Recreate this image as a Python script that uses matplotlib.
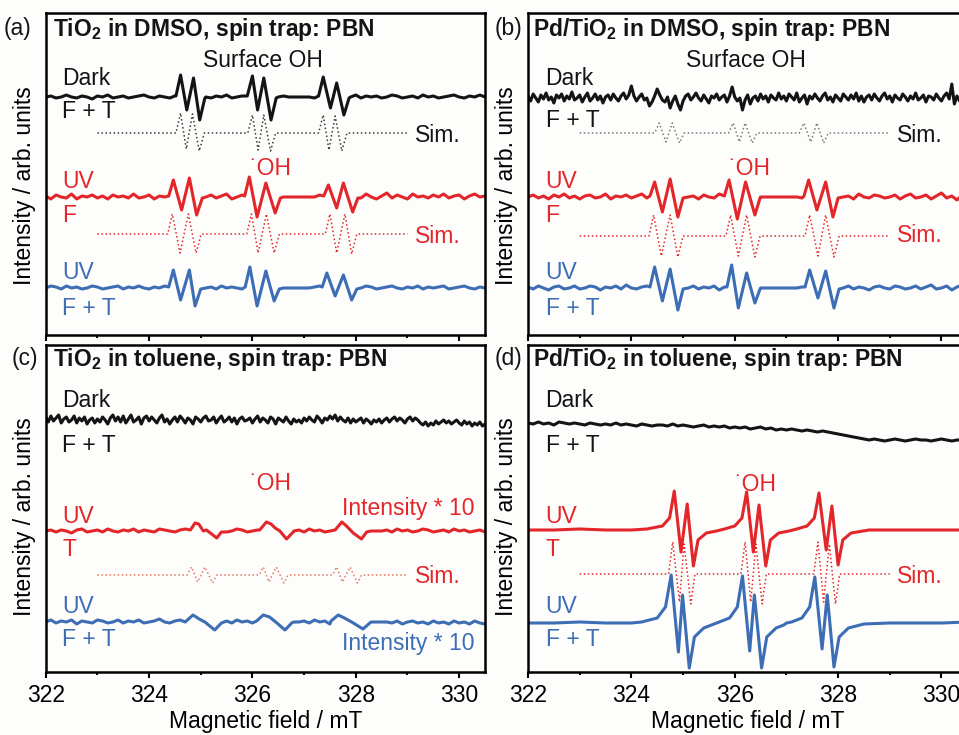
import numpy as np
import matplotlib.pyplot as plt

plt.rcParams['font.family'] = ['Liberation Sans', 'DejaVu Sans']
plt.rcParams['mathtext.fontset'] = 'custom'
plt.rcParams['mathtext.rm'] = 'Liberation Sans'
plt.rcParams['mathtext.bf'] = 'Liberation Sans:bold'
plt.rcParams['lines.solid_joinstyle'] = 'round'

# ---------------- data (field in mT, signal in arb. units) ----------------
# baselines on a regular field grid (noise)
a_dark_base = [0, 1, -1, 0, 2, 0, -1, 1, 0, -2,
               1, 0, 2, -1, 0, 1, -1, 0, 1, 2,
               0, -1, 1, 0, -1, 1, 2, 0, 0, 0,
               0, 0, -1, 1, 0, 2, -1, 0, 1, -1,
               0, 1, 0, -1, 2, 0, 1, 0, 0, 0,
               0, 0, -1, 1, 0, 2, 0, -1, 1, 0,
               2, -1, 1, 0, 1, -1, 0, 2, 1, -1,
               0, 1, -1, 2, 0, 1, -1, 0, 1, 2,
               0, -1, 1, 0, 2, 0]
a_red_base = [1, -2, 2, 0, -1, 3, -2, 1, 0, 2,
              -1, 1, -2, 2, 0, 1, -1, 3, -1, 0,
              2, -2, 1, 0, 2, -1, 1, 0, 0, 0,
              0, 0, 2, -1, 1, 3, -2, 0, 2, -1,
              1, 0, 2, -2, 1, 0, 0, 0, 0, 0,
              0, 0, 0, 2, -1, 1, 3, -2, 0, 1,
              2, -1, 3, 0, -2, 1, 4, -1, 2, 0,
              -2, 3, 0, 1, -1, 2, 0, 3, -1, 1,
              2, -2, 1, 3, 0, 1]
a_blue_base = [0, 2, 1, -1, 2, 0, 1, -1, 0, 2,
               1, -1, 0, 1, 2, -1, 1, 0, 2, 0,
               -1, 1, 0, 2, 1, -1, 0, 1, 0, 0,
               0, 0, 1, -1, 2, 0, 1, 0, -1, 1,
               2, 0, -1, 1, 0, 0, 0, 0, 0, 0,
               0, 0, 1, 2, -1, 0, 1, 0, 2, -1,
               1, 0, 2, 1, -1, 0, 1, 2, 0, -1,
               1, 0, 2, -1, 1, 0, 1, 2, -1, 0,
               1, 2, 0, -1, 1, 0]
b_dark_base = [2, -3, 4, 0, -4, 3, -1, 5, -2, 1,
               -5, 3, 0, 4, -3, 2, -1, 6, -2, 0,
               3, -4, 1, 5, -3, 0, 4, -2, 2, -5,
               1, 3, -2, 4, 0, -3, 2, 5, -1, 3,
               12, 2, -3, 1, 4, -2, 0, -8, -4, 2,
               9, 3, -2, -4, 1, -10, -3, 2, -6, -12,
               -3, 2, 4, -2, 1, 5, 0, -3, 3, -1,
               -5, 2, 0, 4, -2, 1, 3, -4, 2, 11,
               1, -3, 0, -12, -2, 3, -6, 0, 2, -3,
               4, -1, 2, -4, 3, 0, -2, 5, -1, 2,
               -3, 4, 1, -2, 5, -4, 0, 3, -6, 2,
               -1, 4, 0, -3, 2, 5, -2, 1, -4, 3,
               0, -3, 4, 1, -2, 3, -1, 5, -3, 2,
               -4, 1, 3, -2, 4, 0, -3, 2, 5, -1,
               2, -4, 3, 0, -2, 4, 1, -3, 2, -1,
               5, -2, 0, 3, -4, 2, 1, -2, 4, 0,
               -3, 2, 5, -1, 14, -6, 2, -3, 1, 3,
               0]
b_red_base = [0, 2, -1, 1, -2, 2, 0, 3, -1, 1,
              -2, 1, 2, -1, 0, 3, -2, 1, 0, 2,
              -1, 1, 3, -1, 0, 2, 0, 0, 0, 0,
              0, 0, 1, -2, 2, 0, -1, 3, 1, -2,
              0, 2, -1, 1, 0, 0, 0, 0, 0, 0,
              0, 0, 0, -1, 2, 0, 3, -2, 1, -1,
              2, 0, 1, -2, 3, 0, -1, 2, 1, -1,
              0, 2, -2, 1, 3, -1, 0, 2, -2, 1,
              4, -1, 1, -3, 2, 0]
b_blue_base = [1, -1, 2, 0, -2, 1, 2, -1, 0, 2,
               -1, 0, 2, 1, -2, 1, 0, 2, -1, 3,
               0, -1, 1, 2, 0, -1, 0, 0, 0, 0,
               0, 0, 2, -1, 1, 0, 2, -2, 1, 0,
               -1, 2, 0, 1, 0, 0, 0, 0, 0, 0,
               0, 0, 0, 1, -1, 2, 0, -2, 1, 3,
               -1, 0, 2, -1, 1, 0, -2, 1, 2, 0,
               -1, 2, 1, -1, 0, 2, -1, 1, 3, -1,
               0, 2, -2, 1, 3, 0]
c_dark_base = [3, -2, 4, -1, 2, 5, -3, 1, 3, -2,
               0, 4, -3, 2, -1, 3, -4, 0, 2, -3,
               1, -2, 3, 0, -4, 2, 5, -1, 3, -2,
               4, -3, 1, 5, -2, 0, 3, -4, 2, 4,
               -1, 3, 0, -3, 2, 5, -2, 1, -4, 0,
               3, -2, 4, 1, -3, 2, 0, -4, 3, 1,
               -2, 2, 4, -1, 0, 3, -3, 1, 4, -2,
               0, 3, -2, 2, -4, 1, 3, -1, 0, 2,
               -3, 1, 4, -2, 2, 0, -3, 3, 1, -4,
               2, 0, -2, 3, -1, -4, 1, -2, 0, -3,
               2, -1, 3, 0, -2, 4, 1, -3, 2, 0,
               4, 1, 5, -1, 3, 0, -2, 2, -3, 1,
               -2, 0, 2, -3, 1, -1, -4, 0, -2, 1,
               -3, 0, 2, -2, 1, 3, -1, 2, 0, -3,
               1, 3, -1, 2, 0, -3, -5, -2, -6, -3,
               -5, -1, -4, -2, 0, -3, -1, -4, -2, 0,
               -3, -5, -1, -4, -2, -6, -3, -5, -2, -6,
               -4]
c_red_base = [0, 1, -1, 1, 0, -2, 1, 2, -1, 0,
              1, -1, 2, 0, -1, 1, 0, 2, -1, 1,
              0, -1, 2, 1, 0, -1, 1, 2, 0, 0,
              0, 0, 0, 0, 1, -1, 0, 2, 1, -1,
              0, 1, 0, 0, 0, 0, 0, 0, 0, 1,
              -1, 2, 0, 1, -1, 0, 1, 0, 0, 0,
              0, 0, 0, 0, 0, 0, 1, -1, 2, 0,
              1, -1, 0, 2, 1, -1, 0, 1, -1, 2,
              0, 1, -1, 0, 1, -1]
c_blue_base = [0, 2, -1, 1, 0, 2, -2, 1, 0, -1,
               2, 1, -1, 0, 2, -1, 1, 0, 2, -1,
               0, 1, 3, 0, -1, 1, 2, 0, 0, 0,
               0, 0, 0, 0, 0, 1, -1, 2, 0, 1,
               -1, 2, 1, 0, 0, 0, 0, 0, 0, 0,
               1, -1, 2, 0, 1, -2, 1, 0, 0, 0,
               0, 0, 0, 0, 0, 0, 0, -1, 1, -2,
               0, 1, -1, 0, -2, 1, -1, 0, -2, 1,
               -1, 0, -2, 1, -1, -2]
d_dark_base = [1, 0, 2, 0, 1, -1, 2, 1, 0, 1,
               0, -1, 1, 0, -1, 0, -1, 1, -1, 0,
               -1, -2, 0, -1, -2, -1, -1, -2, 0, -2,
               -1, -2, -3, -2, -1, -3, -2, -3, -2, -4,
               -3, -4, -3, -5, -4, -3, -5, -4, -6, -5,
               -6, -5, -6, -7, -6, -7, -8, -7, -8, -9,
               -10, -11, -12, -13, -14, -15, -16, -15, -16, -17,
               -16, -15, -16, -17, -16, -15, -16, -16, -17, -16,
               -15, -16, -17, -16, -16, -15]
d_red_base = [0, 0, 1, 0, 0, 0, 0, 0, 0, 0, 0, 0, 0, 0, 0, 0, 0, 0]
d_blue_base = [0, 0, 1, 0, 0, 0, 0, 0, 0, 0, 0, 0, 0, 0, 0, 0, 0, 1]
sim_base = [0, 0]

# hyperfine line groups (field positions and amplitudes)
a_dark_px = [[324.52, 324.61, 324.73, 324.86, 324.98, 325.08],
             [325.90, 326.00, 326.10, 326.22, 326.36, 326.46],
             [327.28, 327.37, 327.51, 327.63, 327.77, 327.87]]
a_dark_py = [[1, 22, -13, 19, -23, -1], [1, 21, -13, 19, -23, -1], [1, 20, -11, 14, -18, -1]]
a_sim_px = [[324.52, 324.61, 324.72, 324.84, 324.97, 325.07],
            [325.91, 326.00, 326.11, 326.22, 326.35, 326.45],
            [327.28, 327.37, 327.48, 327.60, 327.73, 327.83]]
a_sim_py = [[0, 20, -16, 19, -18, 0], [0, 18, -17, 18, -18, 0], [0, 18, -17, 17, -18, 0]]
a_red_px = [[324.38, 324.47, 324.63, 324.78, 324.92, 325.03],
            [325.85, 325.94, 326.09, 326.26, 326.44, 326.54],
            [327.38, 327.47, 327.63, 327.76, 327.94, 328.04]]
a_red_py = [[1, 17, -13, 19, -18, -1], [1, 20, -20, 14, -16, -1], [1, 12, -11, 14, -15, -1]]
a_rsim_px = [[324.36, 324.45, 324.60, 324.76, 324.91, 325.01],
             [325.89, 325.98, 326.11, 326.27, 326.42, 326.52],
             [327.41, 327.50, 327.63, 327.79, 327.92, 328.02]]
a_rsim_py = [[0, 20, -19, 20, -19, 0], [0, 20, -19, 20, -19, 0], [0, 20, -19, 20, -20, 0]]
a_blue_px = [[324.38, 324.47, 324.61, 324.78, 324.89, 325.00],
             [325.86, 325.95, 326.09, 326.26, 326.42, 326.52],
             [327.35, 327.44, 327.60, 327.76, 327.92, 328.02]]
a_blue_py = [[1, 18, -12, 18, -18, -1], [1, 21, -18, 17, -13, -1], [1, 15, -8, 13, -12, -1]]

b_sim_px = [[324.45, 324.54, 324.67, 324.79, 324.93, 325.02],
            [325.88, 325.97, 326.09, 326.20, 326.34, 326.43],
            [327.25, 327.34, 327.47, 327.59, 327.72, 327.81]]
b_sim_py = [[0, 10, -9, 10, -10, 0], [0, 10, -9, 10, -10, 0], [0, 10, -9, 10, -10, 0]]
b_red_px = [[324.36, 324.45, 324.60, 324.75, 324.90, 325.00],
            [325.80, 325.89, 326.05, 326.21, 326.39, 326.49],
            [327.34, 327.43, 327.59, 327.76, 327.90, 328.00]]
b_red_py = [[1, 15, -15, 18, -20, -1], [1, 17, -22, 15, -18, -1], [1, 17, -13, 15, -20, -1]]
b_rsim_px = [[324.34, 324.43, 324.58, 324.75, 324.90, 325.00],
             [325.83, 325.92, 326.07, 326.23, 326.39, 326.49],
             [327.36, 327.45, 327.61, 327.76, 327.92, 328.02]]
b_rsim_py = [[0, 21, -20, 21, -21, 0], [0, 21, -20, 21, -21, 0], [0, 21, -20, 21, -21, 0]]
b_blue_px = [[324.36, 324.45, 324.60, 324.75, 324.90, 325.00],
             [325.85, 325.94, 326.07, 326.23, 326.39, 326.49],
             [327.36, 327.45, 327.61, 327.76, 327.92, 328.02]]
b_blue_py = [[1, 21, -13, 19, -22, -1], [1, 23, -20, 15, -15, -1], [1, 18, -10, 17, -20, -1]]

c_red_px = [[324.80, 324.89, 324.96, 325.05, 325.11, 325.31, 325.40],
            [326.14, 326.27, 326.36, 326.44, 326.53, 326.66, 326.79],
            [327.60, 327.73, 327.82, 327.95, 328.11, 328.21]]
c_red_py = [[1, 8, 7, 0, 1, -7, -1], [1, 9, 7, 3, 0, -8, -1], [1, 9, 5, -2, -8, -1]]
c_sim_px = [[324.74, 324.82, 324.94, 325.08, 325.23, 325.31],
            [326.13, 326.21, 326.32, 326.46, 326.61, 326.69],
            [327.55, 327.63, 327.74, 327.89, 328.03, 328.11]]
c_sim_py = [[0, 8, -7, 8, -8, 0], [0, 8, -7, 8, -8, 0], [0, 8, -7, 8, -8, 0]]
c_blue_px = [[324.72, 324.85, 324.97, 325.08, 325.27, 325.40],
             [326.08, 326.21, 326.33, 326.45, 326.63, 326.76],
             [327.52, 327.66, 327.78, 327.92, 328.14, 328.27]]
c_blue_py = [[1, 7, 3, 0, -8, -1], [1, 7, 5, 0, -8, -1], [1, 7, 4, 0, -7, -1]]

d_red_px = [[324.30, 324.60, 324.74, 324.83, 324.96, 325.08, 325.20, 325.29, 325.45, 325.65],
            [325.80, 326.00, 326.14, 326.23, 326.36, 326.47, 326.60, 326.69, 326.85, 327.05],
            [327.20, 327.40, 327.54, 327.63, 327.77, 327.88, 328.00, 328.09, 328.25, 328.60]]
d_red_py = [[1, 4, 12, 39, -22, 26, -36, -10, -3, -1],
            [1, 4, 12, 38, -22, 25, -36, -10, -3, -1],
            [1, 4, 12, 37, -20, 24, -35, -10, -3, 0]]
d_sim_px = [[324.72, 324.80, 324.93, 325.02, 325.15, 325.23],
            [326.12, 326.20, 326.31, 326.41, 326.53, 326.61],
            [327.53, 327.61, 327.72, 327.83, 327.95, 328.03]]
d_sim_py = [[0, 32, -28, 30, -30, 0], [0, 32, -28, 30, -30, 0], [0, 32, -28, 30, -30, 0]]
d_blue_px = [[324.20, 324.50, 324.66, 324.77, 324.91, 324.99, 325.12, 325.22, 325.40, 325.55],
             [325.70, 325.90, 326.05, 326.15, 326.29, 326.38, 326.52, 326.62, 326.80, 326.95],
             [327.10, 327.30, 327.45, 327.55, 327.69, 327.79, 327.92, 328.02, 328.20, 328.50]]
d_blue_py = [[1, 5, 16, 48, -29, 28, -45, -14, -5, -2],
             [1, 5, 16, 47, -28, 28, -45, -14, -5, -2],
             [1, 5, 16, 46, -26, 28, -44, -14, -5, -1]]

tick_major = [322, 324, 326, 328, 330]
tick_minor = [323, 325, 327, 329]

BLACK = '#141414'
RED = '#e3262a'
BLUE = '#3d6db5'


def trace(base, step, gx_list, gy_list, x0=322.0):
    xb = x0 + step * np.arange(len(base))
    yb = np.array(base, dtype=float)
    keep = np.ones(len(xb), dtype=bool)
    xs, ys = [], []
    for gx, gy in zip(gx_list, gy_list):
        keep &= (xb < min(gx) - 1e-6) | (xb > max(gx) + 1e-6)
        xs += gx
        ys += gy
    x = np.concatenate([xb[keep], xs])
    y = np.concatenate([yb[keep], ys])
    order = np.argsort(x)
    return x[order], y[order]


def style(ax, h, bottom, ylab_y):
    ax.set_xlim(322, 330.5)
    ax.set_ylim(0, h)
    ax.set_yticks([])
    ax.set_xticks(tick_major)
    ax.set_xticks(tick_minor, minor=True)
    ax.tick_params(axis='x', which='major', direction='out', length=4, width=1.5,
                   labelsize=16.5, pad=4.5, labelbottom=bottom)
    ax.tick_params(axis='x', which='minor', direction='out', length=2.5, width=1.5)
    for s in ax.spines.values():
        s.set_linewidth(1.8)
    if bottom:
        ax.set_xlabel('Magnetic field / mT', fontsize=16.5, labelpad=2)
    ax.set_ylabel('Intensity / arb. units', fontsize=16.5)
    ax.yaxis.set_label_coords(-0.022, ylab_y)
    ax.set_facecolor('none')


def txt(ax, x, y, s, color=BLACK, ha='left', **kw):
    ax.text(x, y, s, color=color, ha=ha, va='baseline', fontsize=16.5, **kw)


fig = plt.figure(figsize=(9.59, 7.35), dpi=100, facecolor='#fdfdfb')
W, H = 959.0, 735.0
ax_a = fig.add_axes([45.7 / W, 1 - 335 / H, 439.3 / W, 322 / H])
ax_b = fig.add_axes([528 / W, 1 - 335 / H, 439.3 / W, 322 / H])
ax_c = fig.add_axes([45.7 / W, 1 - 672 / H, 439.3 / W, 327 / H])
ax_d = fig.add_axes([528 / W, 1 - 672 / H, 439.3 / W, 327 / H])

lw = 2.2
slw = 1.1

# ---- (a) TiO2 in DMSO ----
ax = ax_a
x, y = trace(a_dark_base, 0.1, a_dark_px, a_dark_py)
ax.plot(x, y + 238, color=BLACK, lw=lw)
x, y = trace(sim_base, 6.0, a_sim_px, a_sim_py, x0=323.0)
ax.plot(x, y + 202, color='#3a3a3a', lw=slw, ls=':')
x, y = trace(a_red_base, 0.1, a_red_px, a_red_py)
ax.plot(x, y + 138, color=RED, lw=lw)
x, y = trace(sim_base, 6.0, a_rsim_px, a_rsim_py, x0=323.0)
ax.plot(x, y + 101, color=RED, lw=slw, ls=':')
x, y = trace(a_blue_base, 0.1, a_blue_px, a_blue_py)
ax.plot(x, y + 47, color=BLUE, lw=lw)
style(ax, 322, False, 0.463)
txt(ax, 321.19, 300, '(a)')
txt(ax, 322.15, 299, r'TiO$_\mathbf{2}$ in DMSO, spin trap: PBN', fontweight='bold')
txt(ax, 325.05, 268.3, 'Surface OH')
txt(ax, 322.32, 250, 'Dark')
txt(ax, 322.32, 217, 'F + T')
txt(ax, 329.14, 193.3, 'Sim.')
txt(ax, 325.93, 160, '\u02d9OH', color=RED)
txt(ax, 322.32, 147, 'UV', color=RED)
txt(ax, 322.32, 113.3, 'F', color=RED)
txt(ax, 329.14, 92.3, 'Sim.', color=RED)
txt(ax, 322.32, 55.7, 'UV', color=BLUE)
txt(ax, 322.32, 20, 'F + T', color=BLUE)

# ---- (b) Pd/TiO2 in DMSO ----
ax = ax_b
x, y = trace(b_dark_base, 0.05, [], [])
ax.plot(x, y + 237, color=BLACK, lw=lw)
x, y = trace(sim_base, 6.0, b_sim_px, b_sim_py, x0=323.0)
ax.plot(x, y + 202, color='#7a7a7a', lw=slw, ls=':')
x, y = trace(b_red_base, 0.1, b_red_px, b_red_py)
ax.plot(x, y + 138, color=RED, lw=lw)
x, y = trace(sim_base, 6.0, b_rsim_px, b_rsim_py, x0=323.0)
ax.plot(x, y + 99, color=RED, lw=slw, ls=':')
x, y = trace(b_blue_base, 0.1, b_blue_px, b_blue_py)
ax.plot(x, y + 47, color=BLUE, lw=lw)
style(ax, 322, False, 0.463)
txt(ax, 321.36, 300, '(b)')
txt(ax, 322.10, 299, r'Pd/TiO$_\mathbf{2}$ in DMSO, spin trap: PBN', fontweight='bold')
txt(ax, 325.06, 268.3, 'Surface OH')
txt(ax, 322.34, 250, 'Dark')
txt(ax, 322.34, 208, 'F + T')
txt(ax, 329.14, 193.3, 'Sim.')
txt(ax, 325.87, 160, '\u02d9OH', color=RED)
txt(ax, 322.34, 147, 'UV', color=RED)
txt(ax, 322.34, 113.3, 'F', color=RED)
txt(ax, 329.14, 93.3, 'Sim.', color=RED)
txt(ax, 322.34, 55.7, 'UV', color=BLUE)
txt(ax, 322.34, 20, 'F + T', color=BLUE)

# ---- (c) TiO2 in toluene ----
ax = ax_c
x, y = trace(c_dark_base, 0.05, [], [])
ax.plot(x, y + 252, color=BLACK, lw=lw)
x, y = trace(c_red_base, 0.1, c_red_px, c_red_py)
ax.plot(x, y + 141, color=RED, lw=lw)
x, y = trace(sim_base, 6.0, c_sim_px, c_sim_py, x0=323.0)
ax.plot(x, y + 97, color='#e57a68', lw=slw, ls=':')
x, y = trace(c_blue_base, 0.1, c_blue_px, c_blue_py)
ax.plot(x, y + 50, color=BLUE, lw=lw)
style(ax, 327, True, 0.474)
txt(ax, 321.34, 307, '(c)')
txt(ax, 322.15, 306, r'TiO$_\mathbf{2}$ in toluene, spin trap: PBN', fontweight='bold')
txt(ax, 322.32, 264.7, 'Dark')
txt(ax, 322.32, 220.3, 'F + T')
txt(ax, 325.93, 182, '\u02d9OH', color=RED)
txt(ax, 330.30, 157, 'Intensity * 10', color=RED, ha='right')
txt(ax, 322.32, 149.3, 'UV', color=RED)
txt(ax, 322.32, 116, 'T', color=RED)
txt(ax, 329.14, 88.7, 'Sim.', color=RED)
txt(ax, 322.32, 59.3, 'UV', color=BLUE)
txt(ax, 322.32, 26, 'F + T', color=BLUE)
txt(ax, 330.30, 22, 'Intensity * 10', color=BLUE, ha='right')

# ---- (d) Pd/TiO2 in toluene ----
ax = ax_d
x, y = trace(d_dark_base, 0.1, [], [])
ax.plot(x, y + 248, color=BLACK, lw=lw)
x, y = trace(d_red_base, 0.5, d_red_px, d_red_py)
ax.plot(x, y + 142, color=RED, lw=lw)
x, y = trace(sim_base, 6.0, d_sim_px, d_sim_py, x0=323.0)
ax.plot(x, y + 98, color=RED, lw=slw, ls=':')
x, y = trace(d_blue_base, 0.5, d_blue_px, d_blue_py)
ax.plot(x, y + 49, color=BLUE, lw=lw)
style(ax, 327, True, 0.474)
txt(ax, 321.36, 307, '(d)')
txt(ax, 322.10, 306, r'Pd/TiO$_\mathbf{2}$ in toluene, spin trap: PBN', fontweight='bold')
txt(ax, 322.34, 264.7, 'Dark')
txt(ax, 322.34, 220.3, 'F + T')
txt(ax, 326.00, 181.3, '\u02d9OH', color=RED)
txt(ax, 322.34, 149.3, 'UV', color=RED)
txt(ax, 322.34, 116, 'T', color=RED)
txt(ax, 329.14, 88.7, 'Sim.', color=RED)
txt(ax, 322.34, 59.3, 'UV', color=BLUE)
txt(ax, 322.34, 26, 'F + T', color=BLUE)

fig.savefig('out.png', dpi=100, facecolor=fig.get_facecolor())
